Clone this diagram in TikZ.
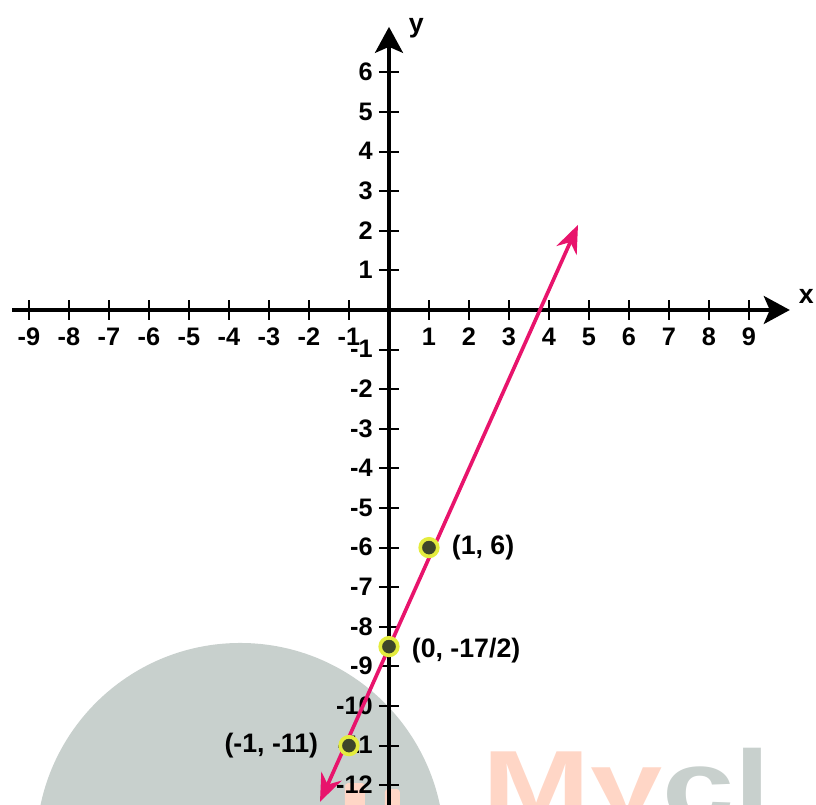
\documentclass[tikz,border=0pt]{standalone}
\usepackage{fontspec}
\setmainfont{Liberation Sans}
\usepackage{xcolor}
\usetikzlibrary{arrows.meta,positioning}
\definecolor{linepink}{RGB}{232,20,108}
\definecolor{dotcore}{RGB}{62,70,42}
\definecolor{dotglow}{RGB}{228,236,62}
\definecolor{markgray}{RGB}{200,208,205}
\definecolor{markorange}{RGB}{255,214,198}
\tikzset{
  axisline/.style={line width=2.4pt, -{Stealth[length=6.5mm,width=7mm,inset=1.5mm]}},
  tickmark/.style={line width=1.4pt},
  ticklab/.style={font=\fontsize{18}{20}\selectfont\bfseries, inner sep=0pt},
  ptlab/.style={font=\fontsize{19}{22}\selectfont\bfseries, inner sep=0pt},
  ptdot/.style={circle, fill=dotcore, draw=dotglow, line width=2.6pt, minimum size=4.4mm, inner sep=0pt},
  fnline/.style={draw=linepink, line width=2.6pt,
                 {Stealth[length=7mm,width=5.5mm]}-{Stealth[length=7mm,width=5.5mm]}},
}
\begin{document}
\begin{tikzpicture}[x=1cm, y=0.99cm, node distance=3mm]
\useasboundingbox (-9.725,-12.5) rectangle (10.675,7.828);
% watermark
\begin{scope}
\clip (-9.725,-12.5) rectangle (10.675,7.828);
\fill[markgray] (-3.72,-13.56) circle[radius=5.1cm];
\fill[markorange, rounded corners=2pt] (-1.1,-12.6) rectangle (-0.6,-11.95);
\fill[markorange, rounded corners=2pt] (-0.1,-12.6) rectangle (0.27,-12.1);
\node[anchor=base west, inner sep=0pt, xscale=1.3, font=\fontsize{71}{71}\selectfont\bfseries]
  (wm) at (2.33,-12.88) {\textcolor{markorange}{My}\textcolor{markgray}{cl}};
\end{scope}
% axes
\coordinate (xl) at (-9.42,0);
\coordinate (xr) at (10.02,0);
\coordinate (yb) at (0,-12.6);
\coordinate (yt) at (0,7.15);
\draw[axisline] (xl) -- (xr);
\draw[axisline] (yb) -- (yt);
\node[ptlab] (xlab) at (10.43,0.33) {x};
\node[ptlab] (ylab) at (0.68,7.12) {y};
\foreach \i in {-9,-8,-7,-6,-5,-4,-3,-2,-1,1,2,3,4,5,6,7,8,9} {
  \draw[tickmark] (\i,-0.25) -- (\i,0.25);
  \node[ticklab, anchor=base] at (\i,-0.9) {\i};
}
\foreach \j in {-12,-11,-10,-9,-8,-7,-6,-5,-4,-3,-2,-1,1,2,3,4,5,6} {
  \draw[tickmark] (-0.25,\j) -- (0.25,\j);
  \node[ticklab, anchor=base east] at (-0.4,\j-0.21) {\j};
}
% the line and its points
\coordinate (lo) at (-1.725,-12.42);
\coordinate (hi) at (4.725,2.15);
\draw[fnline] (lo) -- (hi);
\node[ptdot] (d1) at (1,-6) {};
\node[ptdot] (d2) at (0,-8.5) {};
\node[ptdot] (d3) at (-1,-11) {};
\node[ptlab, right=of d1] (l1) {(1, 6)};
\node[ptlab, right=of d2, yshift=-1mm] (l2) {(0, -17/2)};
\node[ptlab, left=5mm of d3] (l3) {(-1, -11)};
\end{tikzpicture}
\end{document}
